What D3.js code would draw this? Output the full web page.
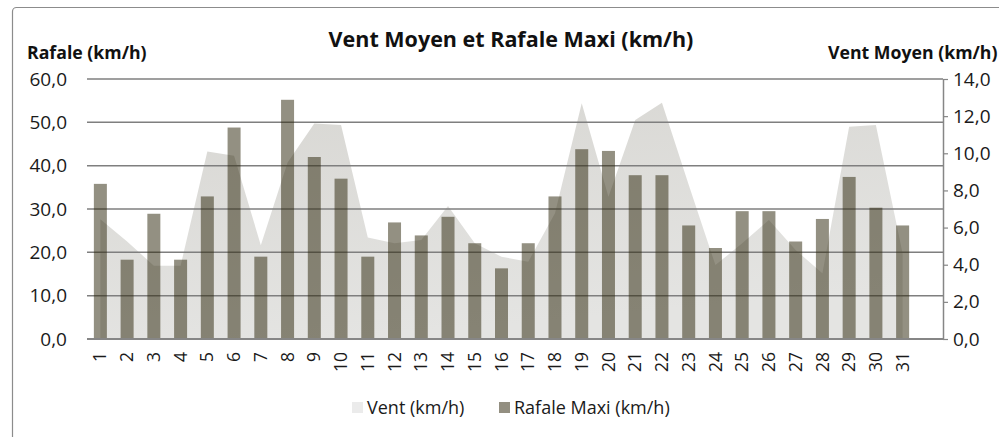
<!DOCTYPE html>
<html>
<head>
<meta charset="utf-8">
<script src="https://cdn.jsdelivr.net/npm/d3@7"></script>
<style>
  body { margin: 0; background: #fff; }
  svg { display: block; font-family: "Open Sans", sans-serif; }
</style>
</head>
<body>
<svg id="chart" width="999" height="437"></svg>
<script>
// days of the month
var days = d3.range(1, 32);

// Rafale maxi (km/h) - left axis, bars
var rafale = [35.8, 18.3, 28.9, 18.3, 32.9, 48.8, 19.0, 55.2, 42.0, 37.0,
              19.0, 26.9, 23.9, 28.2, 22.1, 16.3, 22.1, 32.9, 43.8, 43.4,
              37.8, 37.8, 26.2, 21.0, 29.5, 29.5, 22.5, 27.7, 37.4, 30.3, 26.2];

// Vent moyen (km/h) - right axis, area
var vent = [6.45, 5.25, 3.95, 3.95, 10.1, 9.87, 5.05, 9.5, 11.6, 11.52,
            5.47, 5.15, 5.33, 7.16, 5.15, 4.43, 4.16, 6.77, 12.69, 7.66,
            11.79, 12.72, 8.3, 3.98, 5.15, 6.41, 4.79, 3.54, 11.43, 11.52, 4.6];

var leftTicks = [0, 10, 20, 30, 40, 50, 60];
var rightTicks = [0, 2, 4, 6, 8, 10, 12, 14];

var svg = d3.select("#chart");
var fmt = function(d) { return d3.format(".1f")(d).replace(".", ","); };

var plot = {left: 87, right: 943, top: 79, bottom: 339, bandRight: 916};

var x = d3.scaleBand()
    .domain(days)
    .range([plot.left, plot.bandRight])
    .paddingInner(0.514)
    .paddingOuter(0.257);

var yL = d3.scaleLinear().domain([0, 60]).range([plot.bottom, plot.top]);
var yR = d3.scaleLinear().domain([0, 14]).range([plot.bottom, plot.top]);

// outer chart border
svg.append("rect")
    .attr("x", 12.5).attr("y", 7.5)
    .attr("width", 1000).attr("height", 440)
    .attr("rx", 4)
    .attr("fill", "none")
    .attr("stroke", "#8c8c8c")
    .attr("stroke-width", 1.2);

// gradient for the area
var defs = svg.append("defs");
var grad = defs.append("linearGradient")
    .attr("id", "ventGrad")
    .attr("x1", 0).attr("y1", 0).attr("x2", 0.3).attr("y2", 1);
grad.append("stop").attr("offset", "0%").attr("stop-color", "#d8d7d3");
grad.append("stop").attr("offset", "100%").attr("stop-color", "#e4e4e2");

// area (vent moyen)
var area = d3.area()
    .x(function(d, i) { return x(days[i]) + x.bandwidth() / 2; })
    .y0(plot.bottom)
    .y1(function(d) { return yR(d); });

svg.append("path")
    .datum(vent)
    .attr("d", area)
    .attr("fill", "url(#ventGrad)");

// gridlines
svg.append("g").selectAll("line")
    .data(leftTicks.slice(1))
    .join("line")
    .attr("x1", plot.left).attr("x2", plot.right)
    .attr("y1", function(d) { return yL(d); })
    .attr("y2", function(d) { return yL(d); })
    .attr("stroke", "#7f7f7f")
    .attr("stroke-width", 1.5);

// bars (rafale)
svg.append("g").selectAll("rect")
    .data(rafale)
    .join("rect")
    .attr("x", function(d, i) { return x(days[i]); })
    .attr("y", function(d) { return yL(d); })
    .attr("width", x.bandwidth())
    .attr("height", function(d) { return plot.bottom - yL(d); })
    .attr("fill", "rgb(40,33,5)")
    .attr("fill-opacity", 0.5);

// zero line
svg.append("line")
    .attr("x1", plot.left).attr("x2", plot.right)
    .attr("y1", plot.bottom).attr("y2", plot.bottom)
    .attr("stroke", "#868686")
    .attr("stroke-width", 2);

// left axis
var gL = svg.append("g")
    .attr("transform", "translate(" + plot.left + ",0)")
    .call(d3.axisLeft(yL).tickValues(leftTicks).tickSize(0).tickPadding(20).tickFormat(fmt));
gL.select(".domain").remove();
gL.selectAll("text").attr("font-size", 19).attr("fill", "#1a1a1a")
    .attr("font-family", "Open Sans, sans-serif");

// right axis
var gR = svg.append("g")
    .attr("transform", "translate(" + plot.right + ",0)")
    .call(d3.axisRight(yR).tickValues(rightTicks).tickSize(5).tickSizeOuter(0).tickPadding(5).tickFormat(fmt));
gR.select(".domain").attr("stroke", "#868686").attr("stroke-width", 1.5);
gR.selectAll("line").attr("stroke", "#868686").attr("stroke-width", 1.2);
gR.selectAll("text").attr("font-size", 19).attr("fill", "#1a1a1a")
    .attr("font-family", "Open Sans, sans-serif");

// x labels, rotated
svg.append("g").selectAll("text")
    .data(days)
    .join("text")
    .attr("transform", function(d) {
      return "translate(" + (x(d) + x.bandwidth() / 2) + ",352) rotate(-90)";
    })
    .attr("text-anchor", "end")
    .attr("dy", "0.35em")
    .attr("font-size", 17.5)
    .attr("fill", "#1a1a1a")
    .text(function(d) { return d; });

// titles
svg.append("text")
    .attr("x", 511).attr("y", 47)
    .attr("text-anchor", "middle")
    .attr("font-size", 21.5)
    .attr("font-weight", "bold")
    .attr("fill", "#111")
    .text("Vent Moyen et Rafale Maxi (km/h)");

svg.append("text")
    .attr("x", 27).attr("y", 59)
    .attr("font-size", 17.7)
    .attr("font-weight", "bold")
    .attr("fill", "#111")
    .text("Rafale (km/h)");

svg.append("text")
    .attr("x", 828).attr("y", 59)
    .attr("font-size", 17.7)
    .attr("font-weight", "bold")
    .attr("fill", "#111")
    .text("Vent Moyen (km/h)");

// legend
var legend = [
  {label: "Vent (km/h)", color: "#ebebeb", x: 352},
  {label: "Rafale Maxi (km/h)", color: "#938f81", x: 499}
];
var lg = svg.append("g").selectAll("g")
    .data(legend)
    .join("g")
    .attr("transform", function(d) { return "translate(" + d.x + ",402)"; });
lg.append("rect")
    .attr("width", 11).attr("height", 11)
    .attr("fill", function(d) { return d.color; });
lg.append("text")
    .attr("x", 15).attr("y", 12)
    .attr("font-size", 18)
    .attr("fill", "#1a1a1a")
    .text(function(d) { return d.label; });
</script>
</body>
</html>
